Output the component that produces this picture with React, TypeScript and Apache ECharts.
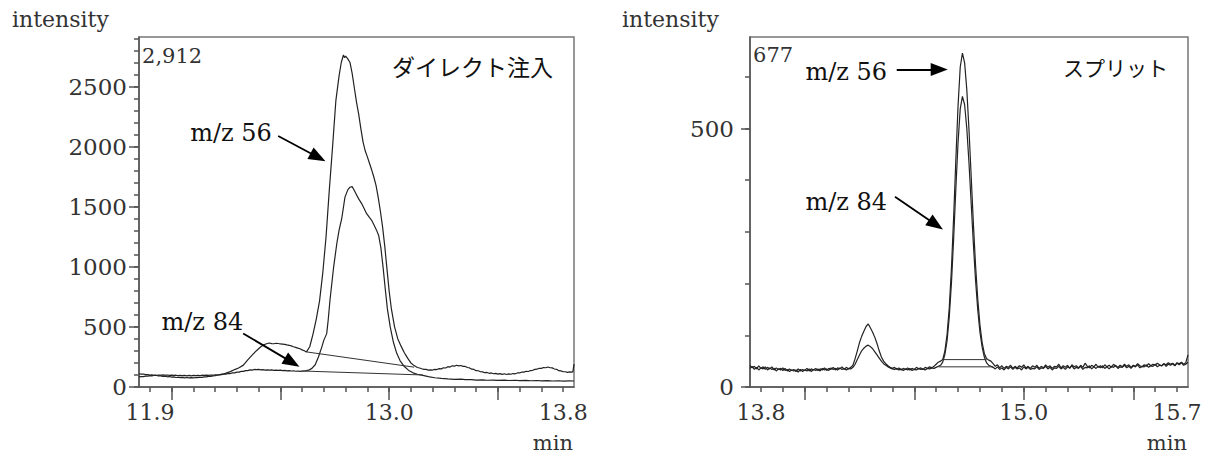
import React, { useEffect, useRef } from "react";
import * as echarts from "echarts";

// ---------- data: left panel (ダイレクト注入) ----------
const directTimeRange = [11.85, 13.85];
const directIntensityMax = 2912;
const directXTickLabels = [11.9, 13.0, 13.8];
const directXMajorTicks = [12.0, 12.5, 13.0, 13.5];
const directXMinorRange = [11.9, 13.8]; // minor ticks every 0.1 min
const directYTicks = [0, 500, 1000, 1500, 2000, 2500];
const directYMinorMax = 2900; // minor ticks every 100

const direct56: [number, number][] = [
  [11.85, 110], [11.86, 107], [11.87, 108], [11.88, 103], [11.89, 104], [11.9, 99], [11.91, 101], [11.92, 96],
  [11.93, 97], [11.94, 92], [11.95, 93], [11.96, 88], [11.97, 90], [11.98, 85], [11.99, 87], [12.0, 82],
  [12.01, 84], [12.02, 79], [12.03, 81], [12.04, 78], [12.05, 80], [12.06, 76], [12.07, 79], [12.08, 76],
  [12.09, 78], [12.1, 76], [12.11, 79], [12.12, 78], [12.13, 81], [12.14, 80], [12.15, 84], [12.16, 84],
  [12.17, 88], [12.18, 89], [12.19, 93], [12.2, 95], [12.21, 99], [12.22, 101], [12.23, 107], [12.24, 109],
  [12.25, 115], [12.27, 128], [12.29, 145], [12.31, 160],
  [12.33, 182], [12.35, 225], [12.37, 265], [12.39, 302], [12.41, 335], [12.42, 348], [12.43, 356], [12.44, 362],
  [12.45, 366], [12.46, 361], [12.47, 360], [12.48, 364],
  [12.49, 362], [12.5, 358], [12.51, 356], [12.52, 354], [12.53, 350], [12.54, 347], [12.55, 342], [12.56, 335],
  [12.57, 330], [12.58, 324], [12.59, 318], [12.6, 309], [12.61, 302], [12.62, 292],
  [12.635, 335], [12.65, 440], [12.665, 565], [12.68, 715], [12.695, 950], [12.71, 1250], [12.725, 1640],
  [12.74, 2000], [12.755, 2380], [12.77, 2590], [12.78, 2700], [12.79, 2763], [12.795, 2740], [12.8, 2752],
  [12.81, 2730], [12.82, 2700], [12.83, 2610], [12.84, 2490], [12.85, 2370], [12.86, 2270], [12.87, 2150],
  [12.88, 2040], [12.89, 1965], [12.9, 1915], [12.91, 1860], [12.92, 1805], [12.93, 1745], [12.94, 1675],
  [12.95, 1575], [12.96, 1460], [12.97, 1330], [12.98, 1170], [12.99, 985], [13.0, 800], [13.01, 655],
  [13.025, 500], [13.04, 400], [13.055, 340], [13.07, 285], [13.085, 240], [13.1, 200], [13.115, 178],
  [13.13, 162], [13.14, 158], [13.15, 152], [13.16, 147], [13.17, 146], [13.18, 141], [13.19, 143], [13.2, 141],
  [13.21, 147], [13.22, 145], [13.23, 153], [13.24, 151], [13.25, 160], [13.26, 158], [13.27, 169], [13.28, 166],
  [13.29, 176], [13.3, 173], [13.31, 181], [13.32, 176], [13.33, 179], [13.34, 172], [13.35, 171], [13.36, 162],
  [13.37, 159], [13.38, 148], [13.39, 146], [13.4, 136], [13.41, 135], [13.42, 127], [13.43, 126], [13.44, 119],
  [13.45, 121], [13.46, 114], [13.47, 117], [13.48, 110], [13.49, 113], [13.5, 107], [13.51, 111], [13.52, 105],
  [13.53, 110], [13.54, 104], [13.55, 109], [13.56, 106], [13.57, 112], [13.58, 110], [13.59, 117], [13.6, 117],
  [13.61, 125], [13.62, 124], [13.63, 131], [13.64, 129], [13.65, 137], [13.66, 139], [13.67, 147], [13.68, 148],
  [13.69, 156], [13.7, 155], [13.71, 162], [13.72, 160], [13.73, 166], [13.74, 160], [13.75, 159], [13.76, 150],
  [13.77, 147], [13.78, 136], [13.79, 134], [13.8, 127], [13.81, 127], [13.82, 122], [13.83, 126], [13.84, 124],
  [13.845, 128], [13.85, 190],
];

const direct84: [number, number][] = [
  [11.85, 84], [11.86, 87], [11.87, 86], [11.88, 91], [11.89, 90], [11.9, 95], [11.91, 93], [11.92, 98],
  [11.93, 96], [11.94, 100], [11.95, 98], [11.96, 101], [11.97, 98], [11.98, 100], [11.99, 97], [12.0, 99],
  [12.01, 96], [12.02, 98], [12.03, 95], [12.04, 97], [12.05, 94], [12.06, 96], [12.07, 93], [12.08, 96],
  [12.09, 93], [12.1, 96], [12.11, 94], [12.12, 97], [12.13, 95], [12.14, 98], [12.15, 96], [12.16, 99],
  [12.17, 97], [12.18, 100], [12.19, 98], [12.2, 101], [12.21, 100], [12.22, 104], [12.23, 103], [12.24, 107],
  [12.25, 107], [12.26, 112], [12.27, 112], [12.28, 118], [12.29, 118], [12.3, 124], [12.31, 124], [12.32, 130],
  [12.33, 130], [12.34, 136], [12.35, 136], [12.36, 142], [12.37, 140], [12.38, 146], [12.39, 144], [12.4, 146],
  [12.41, 142], [12.42, 144], [12.43, 140], [12.44, 143], [12.45, 140], [12.46, 143], [12.47, 139], [12.48, 141],
  [12.49, 138], [12.5, 140], [12.51, 136], [12.52, 138], [12.53, 134], [12.54, 136], [12.55, 133], [12.56, 135],
  [12.57, 131], [12.58, 133], [12.59, 130], [12.6, 132], [12.61, 133], [12.62, 136], [12.63, 140],
  [12.645, 155], [12.66, 185], [12.675, 250], [12.69, 330], [12.7, 390], [12.713, 444], [12.72, 560],
  [12.728, 722], [12.745, 1000], [12.76, 1200], [12.77, 1305], [12.782, 1400], [12.797, 1580], [12.81, 1640],
  [12.82, 1662], [12.83, 1667], [12.84, 1635], [12.85, 1600], [12.86, 1565], [12.873, 1528], [12.885, 1485],
  [12.896, 1444], [12.91, 1410], [12.919, 1389], [12.93, 1350], [12.942, 1305], [12.952, 1260], [12.962, 1160],
  [12.972, 1000], [12.982, 820], [12.992, 650], [13.005, 500], [13.02, 370], [13.035, 280], [13.05, 220],
  [13.07, 170], [13.09, 138], [13.11, 118], [13.13, 106], [13.155, 97], [13.18, 86], [13.21, 77], [13.24, 71],
  [13.27, 67], [13.3, 64], [13.33, 65], [13.35, 61], [13.38, 62], [13.4, 58], [13.43, 60], [13.45, 56],
  [13.48, 58], [13.5, 55], [13.53, 57], [13.55, 54], [13.58, 56], [13.6, 53], [13.63, 55], [13.65, 52],
  [13.68, 54], [13.7, 51], [13.73, 53], [13.75, 50], [13.78, 52], [13.8, 49], [13.83, 51], [13.85, 50],
];

const directBase56: [number, number][] = [[12.62, 292], [13.115, 165]];
const directBase84: [number, number][] = [[12.6, 133], [13.155, 100]];

// ---------- data: right panel (スプリット) ----------
const splitTimeRange = [13.75, 15.75];
const splitIntensityMax = 677;
const splitXTickLabels = [13.8, 15.0, 15.7];
const splitXMajorTicks = [14.0, 14.5, 15.0, 15.5];
const splitXMinorRange = [13.8, 15.7]; // minor ticks every 0.1 min
const splitYTicks = [0, 500];
const splitYMinorMax = 600; // minor ticks every 100
const splitSampleStart = 13.75;
const splitSampleStep = 0.01;

const split56Values = [
  42, 37, 40, 35, 41, 36, 39, 34, 38, 35,
  39, 33, 37, 34, 36, 32, 36, 31, 35, 32,
  34, 30, 35, 31, 34, 32, 36, 31, 35, 33,
  36, 32, 35, 33, 37, 32, 36, 34, 38, 33,
  37, 35, 39, 34, 38, 35, 38, 42, 55, 70,
  86, 98, 108, 117, 122, 114, 106, 96, 84, 70,
  58, 50, 45, 41, 38, 36, 38, 34, 37, 33,
  36, 34, 37, 33, 36, 34, 38, 35, 37, 34,
  38, 36, 39, 37, 40, 44, 48, 50, 53, 70,
  102, 154, 231, 330, 440, 544, 619, 646, 627, 575,
  497, 407, 316, 235, 170, 120, 86, 65, 55, 52,
  50, 45, 40, 43, 37, 41, 36, 40, 38, 42,
  36, 40, 37, 41, 38, 43, 37, 40, 36, 41,
  38, 42, 36, 40, 37, 43, 38, 41, 36, 40,
  39, 44, 37, 41, 38, 42, 36, 43, 39, 41,
  37, 42, 38, 46, 40, 37, 42, 39, 44, 38,
  41, 37, 43, 39, 42, 38, 44, 40, 38, 42,
  39, 44, 40, 43, 38, 42, 40, 45, 41, 39,
  43, 40, 45, 41, 44, 42, 46, 43, 41, 45,
  43, 47, 44, 46, 42, 47, 45, 48, 44, 47,
  62,
];

const split84Values = [
  36, 40, 34, 38, 33, 37, 35, 39, 33, 37,
  34, 36, 31, 35, 33, 37, 32, 34, 30, 33,
  31, 33, 29, 34, 30, 33, 31, 35, 30, 34,
  32, 35, 31, 36, 33, 35, 32, 37, 34, 36,
  33, 37, 34, 36, 33, 36, 35, 38, 44, 53,
  62, 70, 75, 79, 81, 78, 74, 68, 62, 56,
  50, 45, 42, 39, 37, 35, 34, 36, 33, 35,
  32, 35, 33, 36, 32, 34, 33, 36, 34, 35,
  33, 36, 35, 37, 36, 38, 40, 42, 48, 63,
  90, 136, 202, 288, 384, 473, 538, 562, 546, 500,
  433, 355, 276, 206, 149, 106, 77, 58, 47, 42,
  40, 38, 35, 39, 34, 37, 33, 38, 35, 39,
  34, 38, 35, 37, 33, 39, 35, 38, 34, 36,
  35, 39, 34, 37, 36, 40, 35, 38, 33, 37,
  36, 40, 35, 38, 34, 39, 37, 41, 35, 38,
  36, 40, 34, 38, 37, 41, 35, 39, 36, 40,
  37, 41, 36, 39, 35, 40, 38, 42, 36, 39,
  38, 42, 37, 40, 36, 41, 39, 43, 37, 40,
  39, 43, 38, 41, 40, 44, 39, 42, 41, 45,
  40, 44, 42, 45, 41, 46, 43, 47, 42, 44,
  48,
];

const splitBase56: [number, number][] = [[14.63, 53], [14.83, 53]];
const splitBase84: [number, number][] = [[14.61, 39], [14.86, 39]];

// annotation anchors (data coordinates)
const directArrows = [
  { from: [12.49, 2089], to: [12.673, 1911] },
  { from: [12.329, 445], to: [12.554, 205] },
];
const splitArrows = [
  { from: [14.42, 614], to: [14.614, 614] },
  { from: [14.412, 368], to: [14.599, 314] },
];
const directLabels = [
  { text: "m/z 56", at: [12.461, 2117] },
  { text: "m/z 84", at: [12.329, 539] },
];
const splitLabels = [
  { text: "m/z 56", at: [14.376, 610] },
  { text: "m/z 84", at: [14.376, 358] },
];

const SERIF = "DejaVu Serif";
const CJK = "Noto Sans CJK JP";
const INK = "#222";
const AXIS = "#555";
const MINOR_LEN = 5;
const MINOR_X_STEP = 0.1;
const MINOR_Y_STEP = 100;

type Rect = { left: number; top: number; width: number; height: number };
const LEFT_RECT: Rect = { left: 139, top: 37, width: 435, height: 350 };
const RIGHT_RECT: Rect = { left: 750, top: 37, width: 438, height: 350 };

// sub-rectangle of a plot whose x extent is `sub` (same px per minute)
function subRectX(rect: Rect, range: number[], sub: number[]): Rect {
  const k = rect.width / (range[1] - range[0]);
  return { left: rect.left + (sub[0] - range[0]) * k, top: rect.top, width: (sub[1] - sub[0]) * k, height: rect.height };
}
// sub-rectangle of a plot whose y extent is [0, subMax] (same px per unit)
function subRectY(rect: Rect, max: number, subMax: number): Rect {
  const h = (rect.height * subMax) / max;
  return { left: rect.left, top: rect.top + rect.height - h, width: rect.width, height: h };
}

function sampled(values: number[]): [number, number][] {
  return values.map((v, i) => [Number((splitSampleStart + i * splitSampleStep).toFixed(2)), v]);
}

function mainXAxis(grid: number, range: number[], majors: number[], labels: number[]) {
  return {
    gridIndex: grid,
    type: "value",
    position: "bottom",
    min: range[0],
    max: range[1],
    splitNumber: 4,
    axisLine: { show: true, onZero: false, lineStyle: { color: AXIS, width: 1.5 } },
    axisTick: { show: true, customValues: majors, length: 13, lineStyle: { color: AXIS, width: 1.5 } },
    axisLabel: {
      show: true,
      customValues: labels,
      formatter: (v: number) => v.toFixed(1),
      margin: 14,
      fontFamily: SERIF,
      fontSize: 22,
      color: "#333",
    },
    splitLine: { show: false },
  };
}

function mainYAxis(grid: number, max: number, ticks: number[], len: number, margin: number) {
  return {
    gridIndex: grid,
    type: "value",
    position: "left",
    min: 0,
    max,
    interval: 500,
    axisLine: { show: true, onZero: false, lineStyle: { color: AXIS, width: 1.5 } },
    axisTick: { show: true, customValues: ticks, length: len, lineStyle: { color: AXIS, width: 1.5 } },
    axisLabel: {
      show: true,
      customValues: ticks,
      formatter: (v: number) => String(v),
      margin,
      fontFamily: SERIF,
      fontSize: 23,
      color: "#333",
    },
    splitLine: { show: false },
  };
}

// axis that only draws short ticks, every `step` from its min
function minorAxis(grid: number, position: string, min: number, max: number, step: number) {
  return {
    gridIndex: grid,
    type: "value",
    position,
    min,
    max,
    interval: step,
    axisLine: { show: false, onZero: false },
    axisTick: { show: true, length: MINOR_LEN, lineStyle: { color: AXIS, width: 1.5 } },
    axisLabel: { show: false },
    splitLine: { show: false },
  };
}

function hiddenAxis(grid: number) {
  return { gridIndex: grid, type: "value", show: false, min: 0, max: 1 };
}

function arrowMarkLine(arrows: { from: number[]; to: number[] }[]) {
  return {
    silent: true,
    symbol: ["none", "triangle"],
    symbolSize: [13, 17],
    label: { show: false },
    lineStyle: { color: "#000", width: 1.8, type: "solid" },
    itemStyle: { color: "#000" },
    emphasis: { disabled: true },
    data: arrows.map((a) => [{ coord: a.from }, { coord: a.to }]),
  };
}

function textMarkPoint(
  items: { text: string; at: number[]; font?: string; size?: number; align?: string; color?: string }[]
) {
  return {
    silent: true,
    symbol: "circle",
    symbolSize: 1,
    itemStyle: { color: "rgba(0,0,0,0)" },
    emphasis: { disabled: true },
    data: items.map((it) => ({
      coord: it.at,
      label: {
        show: true,
        position: "inside",
        formatter: it.text,
        align: it.align || "right",
        verticalAlign: "middle",
        fontFamily: it.font || SERIF,
        fontSize: it.size || 24,
        color: it.color || "#111",
      },
    })),
  };
}

function lineSeries(idx: number, data: [number, number][], extra: any = {}) {
  return {
    type: "line",
    xAxisIndex: idx,
    yAxisIndex: idx,
    data,
    symbol: "none",
    showSymbol: false,
    silent: true,
    lineStyle: { color: INK, width: 1.2 },
    ...extra,
  };
}

export default function App() {
  const ref = useRef<HTMLDivElement>(null);

  useEffect(() => {
    if (!ref.current) return;
    const chart = echarts.init(ref.current, null, { renderer: "svg" });

    const gridBase = { containLabel: false, outerBoundsMode: "none" };
    const option: any = {
      animation: false,
      backgroundColor: "#fff",
      grid: [
        { ...LEFT_RECT, ...gridBase, show: true, borderColor: "#777", borderWidth: 1.5 },
        { ...RIGHT_RECT, ...gridBase, show: true, borderColor: "#777", borderWidth: 1.5 },
        { ...subRectX(LEFT_RECT, directTimeRange, directXMinorRange), ...gridBase, show: false },
        { ...subRectX(RIGHT_RECT, splitTimeRange, splitXMinorRange), ...gridBase, show: false },
        { ...subRectY(LEFT_RECT, directIntensityMax, directYMinorMax), ...gridBase, show: false },
        { ...subRectY(RIGHT_RECT, splitIntensityMax, splitYMinorMax), ...gridBase, show: false },
      ],
      xAxis: [
        mainXAxis(0, directTimeRange, directXMajorTicks, directXTickLabels),
        mainXAxis(1, splitTimeRange, splitXMajorTicks, splitXTickLabels),
        minorAxis(2, "bottom", directXMinorRange[0], directXMinorRange[1], MINOR_X_STEP),
        minorAxis(3, "bottom", splitXMinorRange[0], splitXMinorRange[1], MINOR_X_STEP),
        hiddenAxis(4),
        hiddenAxis(5),
      ],
      yAxis: [
        mainYAxis(0, directIntensityMax, directYTicks, 10, 12),
        mainYAxis(1, splitIntensityMax, splitYTicks, 9, 16),
        hiddenAxis(2),
        hiddenAxis(3),
        minorAxis(4, "left", 0, directYMinorMax, MINOR_Y_STEP),
        minorAxis(5, "left", 0, splitYMinorMax, MINOR_Y_STEP),
      ],
      series: [
        lineSeries(0, direct56, {
          markLine: arrowMarkLine(directArrows),
          markPoint: textMarkPoint([
            ...directLabels,
            { text: "ダイレクト注入", at: [13.753, 2668], font: CJK, size: 23 },
            { text: "2,912", at: [11.864, 2758], size: 21, align: "left", color: "#333" },
          ]),
        }),
        lineSeries(0, direct84),
        lineSeries(0, directBase56, { lineStyle: { color: "#333", width: 1 } }),
        lineSeries(0, directBase84, { lineStyle: { color: "#333", width: 1 } }),
        lineSeries(1, sampled(split56Values), {
          markLine: arrowMarkLine(splitArrows),
          markPoint: textMarkPoint([
            ...splitLabels,
            { text: "スプリット", at: [15.659, 619], font: CJK, size: 21 },
            { text: "677", at: [13.764, 643], size: 21, align: "left", color: "#333" },
          ]),
        }),
        lineSeries(1, sampled(split84Values)),
        lineSeries(1, splitBase56, { lineStyle: { color: "#333", width: 1 } }),
        lineSeries(1, splitBase84, { lineStyle: { color: "#333", width: 1 } }),
      ],
      graphic: [
        { type: "text", x: 12, y: 19, silent: true, style: { text: "intensity", fontFamily: SERIF, fontSize: 22, fill: "#333", align: "left", verticalAlign: "middle" } },
        { type: "text", x: 622, y: 19, silent: true, style: { text: "intensity", fontFamily: SERIF, fontSize: 22, fill: "#333", align: "left", verticalAlign: "middle" } },
        { type: "text", x: 573, y: 443, silent: true, style: { text: "min", fontFamily: SERIF, fontSize: 21, fill: "#333", align: "right", verticalAlign: "middle" } },
        { type: "text", x: 1187, y: 443, silent: true, style: { text: "min", fontFamily: SERIF, fontSize: 21, fill: "#333", align: "right", verticalAlign: "middle" } },
      ],
    };

    chart.setOption(option);
    return () => chart.dispose();
  }, []);

  return (
    <div
      ref={ref}
      style={{ position: "fixed", left: 0, top: 0, width: 1213, height: 457, background: "#fff" }}
    />
  );
}
